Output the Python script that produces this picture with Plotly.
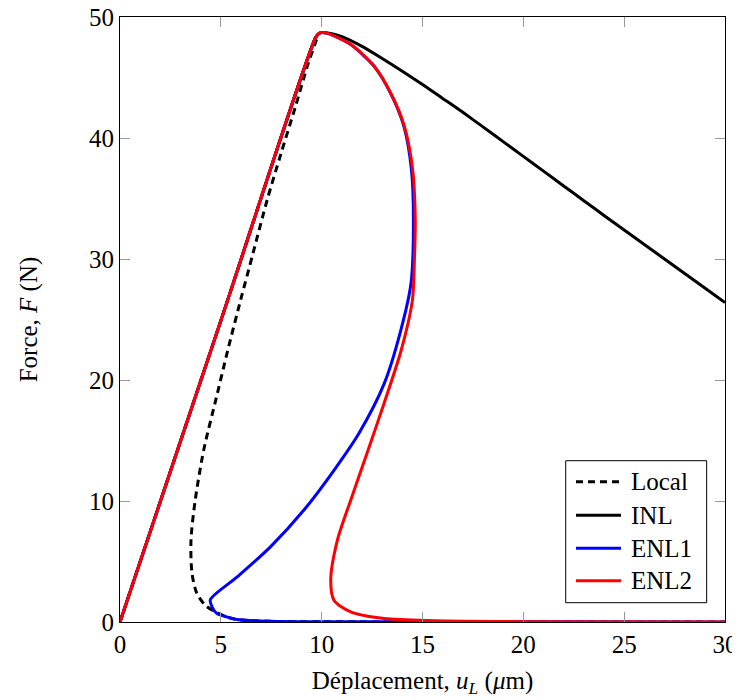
import plotly.graph_objects as go

# Local (dashed)
local_u = [0, 5.0, 9.7, 9.8, 9.3, 8.7, 8.0, 7.30, 6.6, 5.98, 5.35, 4.75, 4.15, 3.73, 3.52, 3.57, 3.81, 4.23, 4.73, 5.3, 5.8, 7.46, 10.0, 30]
local_F = [0, 24.9, 48.3, 48.5, 46.0, 42.6, 38.8, 34.9, 30.5, 26.6, 22.5, 18.35, 14.2, 10.07, 6.76, 4.03, 2.37, 1.38, 0.83, 0.42, 0.2, 0.06, 0.02, 0]

# INL
inl_u = [0, 5.0, 9.7, 9.85, 10.0, 10.5, 11.0, 12.0, 13.0, 14.0, 15.0, 16.0, 17.0, 18.0, 19.0, 20.0, 21.0, 22.0, 23.0, 24.0, 25.0, 26.0, 27.0, 28.0, 29.0, 30.0]
inl_F = [0, 24.9, 48.3, 48.62, 48.72, 48.62, 48.37, 47.57, 46.57, 45.52, 44.42, 43.27, 42.12, 40.92, 39.7, 38.48, 37.26, 36.04, 34.82, 33.6, 32.4, 31.2, 30.0, 28.8, 27.6, 26.4]

# ENL1
enl1_u = [0, 5.0, 9.7, 9.85, 10.0, 10.3, 10.6, 11.44, 12.6, 13.43, 14.08, 14.45, 14.55, 14.43, 13.93, 13.10, 11.85, 10.62, 9.12, 7.46, 5.81, 4.48, 4.55, 4.81, 5.3, 5.8, 7.46, 10.0, 30]
enl1_F = [0, 24.9, 48.3, 48.62, 48.72, 48.65, 48.45, 47.72, 45.92, 43.65, 40.95, 37.4, 33.3, 28.0, 24.15, 19.7, 15.6, 12.56, 9.25, 6.21, 3.73, 1.85, 1.3, 0.69, 0.42, 0.2, 0.06, 0.02, 0]

# ENL2
enl2_u = [0, 5.0, 9.7, 9.85, 10.0, 10.3, 10.6, 11.44, 12.6, 13.43, 14.1, 14.51, 14.64, 14.6, 14.5, 13.95, 13.15, 12.3, 11.44, 10.78, 10.45, 10.61, 11.44, 13.1, 15.6, 20.0, 30]
enl2_F = [0, 24.9, 48.3, 48.62, 48.72, 48.65, 48.45, 47.74, 45.95, 43.7, 40.98, 37.4, 33.25, 30.0, 26.6, 22.5, 18.35, 14.2, 10.07, 6.76, 3.45, 1.8, 0.83, 0.28, 0.1, 0.03, 0]

series_names = ["Local", "INL", "ENL1", "ENL2"]
series_colors = ["black", "black", "#0000ff", "#ff0000"]
series_dash = ["7px,5px", "solid", "solid", "solid"]

x_ticks = [0, 5, 10, 15, 20, 25, 30]
y_ticks = [0, 10, 20, 30, 40, 50]

FONT = "Liberation Serif"
FS = 25

fig = go.Figure()
data = [(local_u, local_F), (inl_u, inl_F), (enl1_u, enl1_F), (enl2_u, enl2_F)]
for (u, F), name, col, dash in zip(data, series_names, series_colors, series_dash):
    fig.add_trace(go.Scatter(x=u, y=F, mode="lines", name=name, showlegend=False,
                             line=dict(color=col, width=3, dash=dash, shape="spline", smoothing=0.8)))

# Custom legend (paper coordinates of the plotting area)
lg_x0, lg_x1, lg_y0, lg_y1 = 0.7367, 0.9697, 0.0319, 0.2666
line_x0, line_x1, text_x = 0.7537, 0.8281, 0.8413
row_y = [0.2319, 0.1764, 0.1218, 0.0683]
shapes = [dict(type="rect", xref="paper", yref="paper", x0=lg_x0, x1=lg_x1, y0=lg_y0, y1=lg_y1,
               line=dict(color="black", width=1), fillcolor="white", layer="above")]
annotations = []
for name, col, dash, ry in zip(series_names, series_colors, series_dash, row_y):
    shapes.append(dict(type="line", xref="paper", yref="paper", x0=line_x0, x1=line_x1, y0=ry, y1=ry,
                       line=dict(color=col, width=3, dash=dash), layer="above"))
    annotations.append(dict(xref="paper", yref="paper", x=text_x, y=ry, xanchor="left", yanchor="middle",
                            text=name, showarrow=False, font=dict(family=FONT, size=FS, color="black")))

axis_common = dict(
    showgrid=False, zeroline=False, showline=True, linecolor="black", linewidth=1,
    mirror="ticks", ticks="inside", ticklen=10, tickcolor="#999999", tickwidth=1,
    tickfont=dict(family=FONT, size=FS, color="black"), automargin=False,
    ticklabeloverflow="allow",
)

fig.update_layout(
    width=732, height=692,
    margin=dict(l=112, r=15, t=9, b=78),
    paper_bgcolor="white", plot_bgcolor="white",
    font=dict(family=FONT, size=FS, color="black"),
    xaxis=dict(range=[0, 30], tickvals=x_ticks,
               title=dict(text="Déplacement, <i>u</i><sub><i>L</i></sub> (<i>μ</i>m)",
                          font=dict(family=FONT, size=FS), standoff=14),
               **axis_common),
    yaxis=dict(range=[0, 50], tickvals=y_ticks,
               title=dict(text="Force, <i>F</i> (N)", font=dict(family=FONT, size=FS), standoff=44),
               **axis_common),
    shapes=shapes,
    annotations=annotations,
    showlegend=False,
)

fig.write_html("out.html")
